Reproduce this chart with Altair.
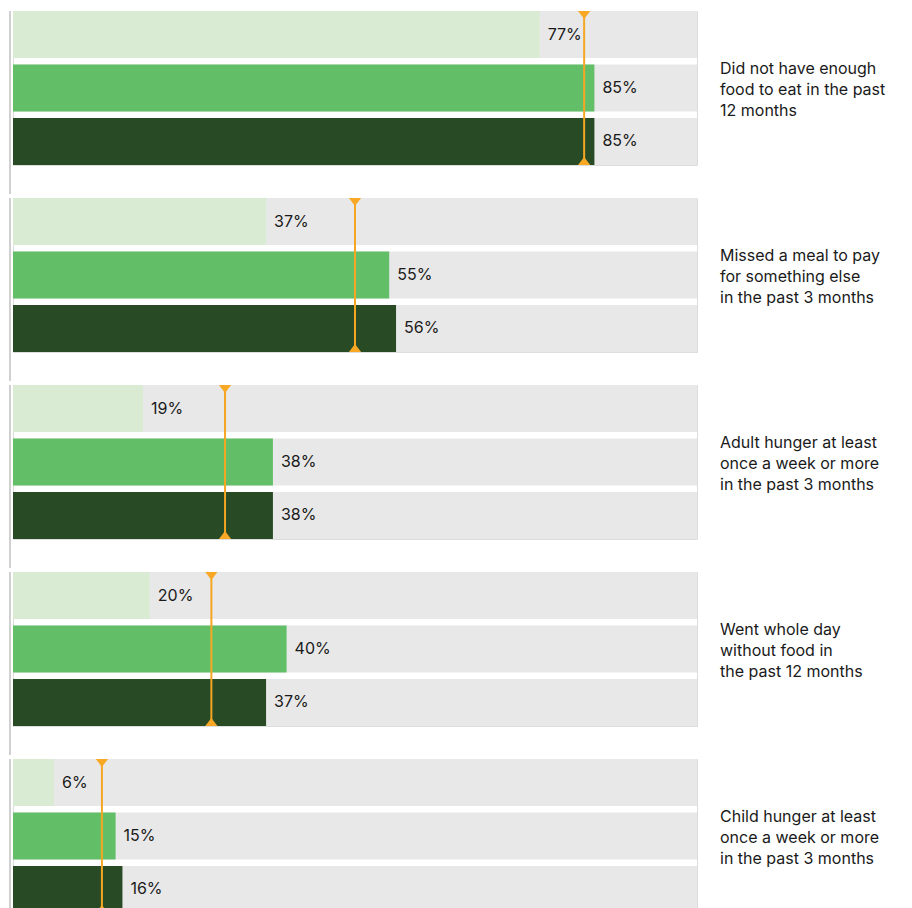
import altair as alt
import pandas as pd

groups = [
    "Did not have enough|food to eat in the past|12 months",
    "Missed a meal to pay|for something else|in the past 3 months",
    "Adult hunger at least|once a week or more|in the past 3 months",
    "Went whole day|without food in|the past 12 months",
    "Child hunger at least|once a week or more|in the past 3 months",
]
series = ["Series A", "Series B", "Series C"]
values_a = [77, 37, 19, 20, 6]
values_b = [85, 55, 38, 40, 15]
values_c = [85, 56, 38, 37, 16]
averages = [83.5, 50, 31, 29, 13]

colors = ["#d9ecd3", "#62bf68", "#284a25"]

rows = []
for gi, g in enumerate(groups):
    for si, (s, vals) in enumerate(zip(series, [values_a, values_b, values_c])):
        rows.append({
            "group": g,
            "series": s,
            "value": vals[gi],
            "full": 100,
            "avg": averages[gi],
            "label": f"{vals[gi]}%",
        })
df = pd.DataFrame(rows)

xscale = alt.Scale(domain=[0, 100], nice=False, zero=True)
yscale = alt.Scale(domain=series, paddingInner=0.12, paddingOuter=0)

base = alt.Chart().encode(
    y=alt.Y("series:N", scale=yscale, axis=None, title=None)
)

bg = base.mark_bar(color="#e8e8e8", cornerRadius=0).encode(
    x=alt.X("full:Q", scale=xscale, axis=None, title=None)
)
bars = base.mark_bar(cornerRadius=0).encode(
    x=alt.X("value:Q", scale=xscale, axis=None),
    color=alt.Color("series:N", scale=alt.Scale(domain=series, range=colors), legend=None),
)
labels = base.mark_text(align="left", baseline="middle", dx=8, fontSize=16,
                        font="Inter", color="#1a1a1a").encode(
    x=alt.X("value:Q", scale=xscale),
    text="label:N",
)

first = alt.Chart().transform_filter(alt.datum.series == series[0])
middle = alt.Chart().transform_filter(alt.datum.series == series[1])
last = alt.Chart().transform_filter(alt.datum.series == series[2])

avg_rule = first.mark_rule(color="#F5A623", strokeWidth=2).encode(
    x=alt.X("avg:Q", scale=xscale)
)
tri_top = first.mark_point(
    shape="M-1,0L1,0L0,1.3Z", filled=True, size=150, color="#F9A825", opacity=1
).encode(
    x=alt.X("avg:Q", scale=xscale),
    y=alt.Y("series:N", scale=yscale, bandPosition=0),
)
tri_bot = last.mark_point(
    shape="M-1,0L1,0L0,-1.3Z", filled=True, size=150, color="#F9A825", opacity=1
).encode(
    x=alt.X("avg:Q", scale=xscale),
    y=alt.Y("series:N", scale=yscale, bandPosition=1),
)
cat_text = middle.mark_text(
    align="left", baseline="middle", dx=23, dy=-19, fontSize=16, font="Inter",
    color="#1a1a1a", lineBreak="|", lineHeight=21
).encode(
    x=alt.datum(100, scale=xscale),
    y=alt.Y("series:N", scale=yscale),
    text="group:N",
)
left_line = first.mark_rule(color="#d0d0d0", strokeWidth=2).encode(
    x=alt.value(-3), y=alt.value(0), y2=alt.value(183)
)

layer = alt.layer(bg, bars, labels, avg_rule, tri_top, tri_bot, cat_text, left_line).properties(
    width=684, height=154
)

chart = layer.facet(
    data=df,
    row=alt.Row(
        "group:N",
        sort=groups,
        title=None,
        header=alt.Header(labels=False, title=None),
    ),
    spacing=0,
).properties(
    padding={"left": 0, "top": 1, "right": 0, "bottom": 0},
).configure_view(stroke=None).configure(background="white")

chart.save("out.html", embed_options={"renderer": "svg", "actions": False})
